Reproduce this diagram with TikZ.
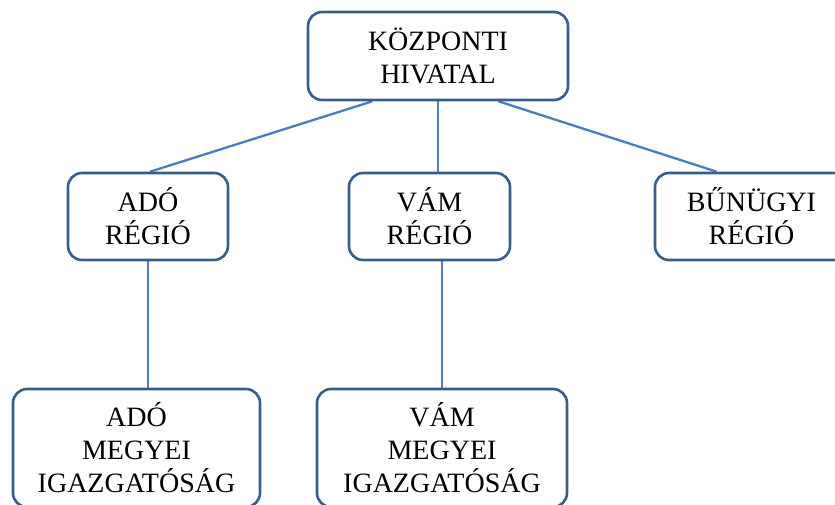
\documentclass[tikz,border=0pt]{standalone}
\usepackage{fontspec}
\setmainfont{Liberation Serif}
\usetikzlibrary{calc, backgrounds}
\definecolor{boxblue}{RGB}{56,93,138}
\definecolor{lineblue}{RGB}{74,126,187}

\begin{document}
\begin{tikzpicture}[
    x=1pt, y=-1pt,
    unit/.style={draw=boxblue, line width=2.6pt, rounded corners=14pt, fill=white,
        inner sep=0pt, align=center, font=\fontsize{28}{33}\selectfont},
    link/.style={draw=lineblue, line width=2.3pt},
]
\useasboundingbox (0,0) rectangle (835,504);
\clip (0,0) rectangle (835,504);
% === Top level ===
\node[unit, minimum width=260pt, minimum height=88pt] (kozp) at (438,56) {KÖZPONTI\\HIVATAL};
% === Regions ===
\node[unit, minimum width=160pt, minimum height=87pt] (ador) at (148,216.5) {ADÓ\\RÉGIÓ};
\node[unit, minimum width=161pt, minimum height=87pt] (vamr) at (429.5,216.5) {VÁM\\RÉGIÓ};
\node[unit, minimum width=193pt, minimum height=87pt] (bunr) at (751.5,216.5) {BŰNÜGYI\\RÉGIÓ};
% === County directorates ===
\node[unit, minimum width=247pt, minimum height=118pt] (adom) at (136.5,448) {ADÓ\\MEGYEI\\IGAZGATÓSÁG};
\node[unit, minimum width=250pt, minimum height=118pt] (vamm) at (442,448) {VÁM\\MEGYEI\\IGAZGATÓSÁG};
% === Connectors ===
\begin{scope}[on background layer]
\draw[link] ($(kozp.south west)!0.25!(kozp.south east)$) -- ($(ador.north)+(2,0)$);
\draw[link] (kozp.south) -- (kozp.south |- vamr.north);
\draw[link] ($(kozp.south west)!0.73!(kozp.south east)$) -- ($(bunr.north west)+(63,0)$);
\draw[link] (ador.south) -- (ador.south |- adom.north);
\draw[link] (vamm.north) -- (vamm.north |- vamr.south);
\end{scope}
\end{tikzpicture}
\end{document}
